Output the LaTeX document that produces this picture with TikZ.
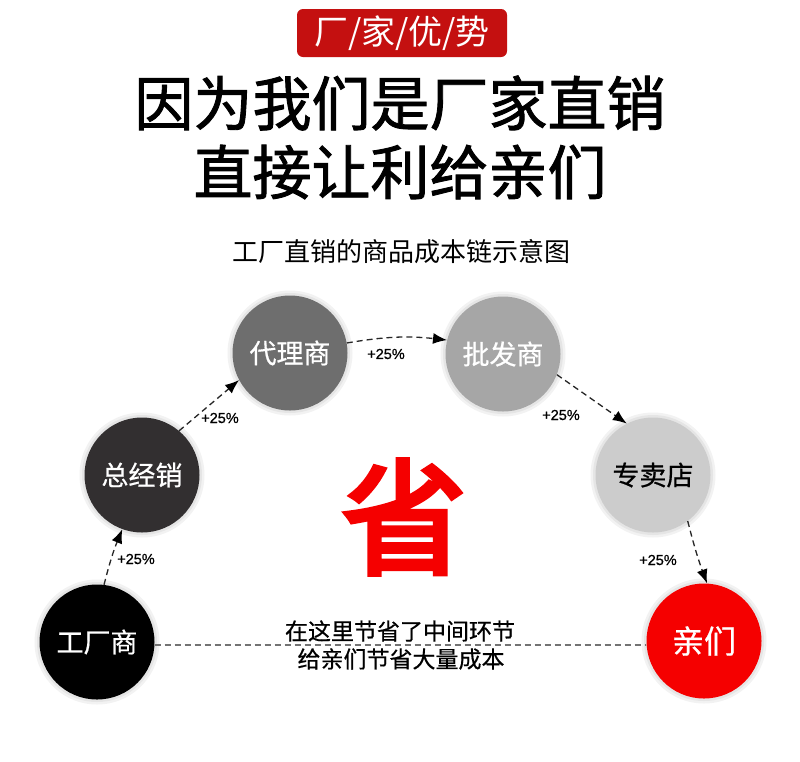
\documentclass[tikz,border=0pt]{standalone}
\usepackage{fontspec}
\newfontfamily\cjk{Noto Sans CJK SC}
\newfontfamily\cjkm[FakeBold=0.6]{Noto Sans CJK SC}
\newfontfamily\cjkb[FakeBold=1.5]{Noto Sans CJK SC}
\newfontfamily\cjkh[FakeBold=4]{Noto Sans CJK SC}
\newfontfamily\lab[FakeBold=0.7]{Liberation Sans}
\usetikzlibrary{arrows.meta}
\definecolor{bannerred}{RGB}{196,16,16}
\definecolor{c1}{RGB}{0,0,0}
\definecolor{c2}{RGB}{50,47,48}
\definecolor{c3}{RGB}{110,110,110}
\definecolor{c4}{RGB}{166,166,166}
\definecolor{c5}{RGB}{204,204,204}
\definecolor{c6}{RGB}{245,0,0}
\begin{document}
\begin{tikzpicture}[x=1pt,y=-1pt,
  circ/.style={circle, minimum size=115pt, inner sep=0pt, text=white,
    font=\cjkm\fontsize{27}{27}\selectfont},
  halo/.style={circle, minimum size=#1, inner sep=0pt, fill=black, fill opacity=0.05},
  flow/.style={draw=black!85, line width=1.3pt, dash pattern=on 6pt off 4pt,
    -{Latex[length=14pt,width=11pt,color=black]}},
  pct/.style={font=\lab\fontsize{14.5}{14.5}\selectfont, inner sep=0pt}]
\useasboundingbox (0,0) rectangle (800,761);
\fill[white] (0,0) rectangle (800,761);

% banner
\node[fill=bannerred, rounded corners=6pt, minimum width=210pt, minimum height=48pt,
  inner sep=0pt, text=white, font=\cjk\fontsize{34}{34}\selectfont] (banner) at (402,33) {厂/家/优/势};

% titles
\node[font=\cjkb\fontsize{59}{59}\selectfont, inner sep=0pt] (t1) at (400,103) {因为我们是厂家直销};
\node[font=\cjkb\fontsize{59}{59}\selectfont, inner sep=0pt] (t2) at (400,172) {直接让利给亲们};
\node[font=\cjk\fontsize{26}{26}\selectfont, inner sep=0pt] (sub) at (401,252) {工厂直销的商品成本链示意图};

% big character
\node[font=\cjkh\fontsize{125}{125}\selectfont, text=c6, inner sep=0pt] (sheng) at (404,517) {省};

% soft shadows
\foreach \p in {(97,642),(142,475),(290,353),(503,354),(653,475),(704,641)} {
  \node[halo=125pt] at \p {};
  \node[halo=120pt] at \p {};
}

% circles
\node[circ, fill=c1] (gc) at (97,642) {工厂商};
\node[circ, fill=c2] (zjx) at (142,475) {总经销};
\node[circ, fill=c3] (dls) at (290,353) {代理商};
\node[circ, fill=c4] (pfs) at (503,354) {批发商};
\node[circ, fill=c5, text=black] (zmd) at (653,475) {专卖店};
\node[circ, fill=c6, font=\cjkm\fontsize{32}{32}\selectfont] (qm) at (704,641) {亲们};

% connectors
\draw[flow] (gc.83) to[bend left=4] (zjx.250);
\draw[flow] (zjx.50) -- (dls.208);
\draw[flow] (dls.10) to[bend left=8] (pfs.166);
\draw[flow] (pfs.339) -- (zmd.117);
\draw[flow] (zmd.307) to[bend right=3] (qm.87);

\draw[draw=black!55, line width=1.1pt, dash pattern=on 6pt off 4pt] (gc.east) ++(0,3) coordinate (ls) -- (qm.west |- ls);

% labels
\node[pct] (p1) at (136,559) {+25\%};
\node[pct] (p2) at (220,418) {+25\%};
\node[pct] (p3) at (386,354) {+25\%};
\node[pct] (p4) at (561,415) {+25\%};
\node[pct] (p5) at (658,560) {+25\%};

\node[font=\cjkm\fontsize{23}{23}\selectfont, inner sep=0pt] (m1) at (400,631) {在这里节省了中间环节};
\node[font=\cjkm\fontsize{23}{23}\selectfont, inner sep=0pt] (m2) at (401,659) {给亲们节省大量成本};
\end{tikzpicture}
\end{document}
